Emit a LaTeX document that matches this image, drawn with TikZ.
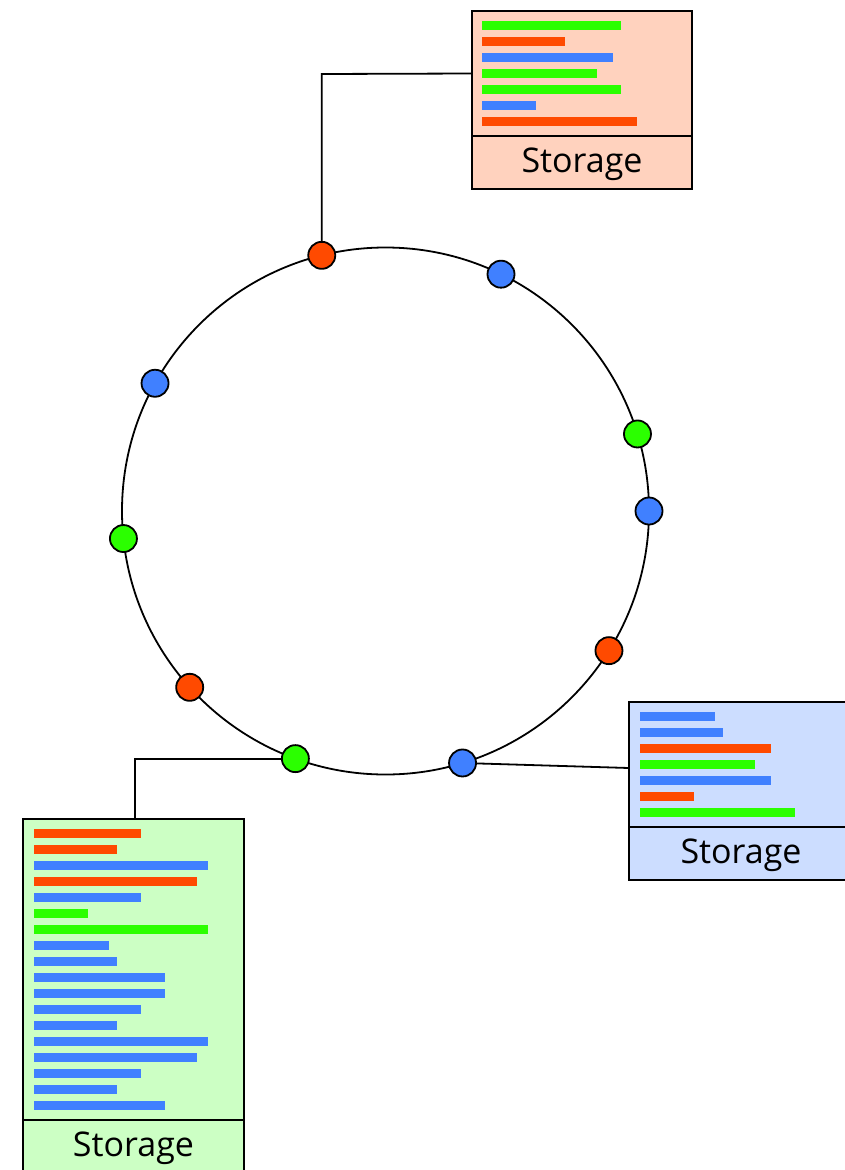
\documentclass[tikz,border=0pt]{standalone}
\usepackage{fontspec}
\setmainfont{Open Sans}
\usetikzlibrary{calc}
\definecolor{barred}{RGB}{255,74,0}
\definecolor{bargreen}{RGB}{43,255,0}
\definecolor{barblue}{RGB}{64,128,255}
\definecolor{peach}{RGB}{255,210,190}
\definecolor{paleblue}{RGB}{204,221,255}
\definecolor{palegreen}{RGB}{204,255,196}

% horizontal bars: #1 = left x, #2 = first centre y, #3 = colour/end list
\newcommand{\drawbars}[3]{%
  \foreach \c/\e [count=\i from 0] in {#3}
    \fill[\c] (#1,{#2+16*\i-4.5}) rectangle (\e,{#2+16*\i+4.5});}

\begin{document}
\begin{tikzpicture}[x=1pt,y=-1pt,
  dot/.style={circle,draw,line width=1.8pt,minimum size=27pt,inner sep=0pt,outer sep=0pt},
  panel/.style={draw,line width=2pt,inner sep=0pt,outer sep=0pt,anchor=north west},
  caption/.style={panel,font=\fontsize{34}{34}\selectfont,text depth=4pt},
  link/.style={line width=1.8pt}]
\clip (0,0) rectangle (845,1170);
\fill[white] (0,0) rectangle (845,1170);

% ring
\node[circle,draw,line width=1.8pt,minimum size=527pt,inner sep=0pt,outer sep=0pt] (ring) at (385.5,511) {};

% storage panels
\node[panel,fill=peach,minimum width=220pt,minimum height=125pt] (topbars) at (472,11) {};
\node[caption,fill=peach,minimum width=220pt,minimum height=53pt] (topcap) at (472,136) {Storage};
\drawbars{482}{25}{bargreen/621,barred/565,barblue/613,bargreen/597,bargreen/621,barblue/536,barred/637}

\node[panel,fill=paleblue,minimum width=224pt,minimum height=125pt] (rightbars) at (629,702) {};
\node[caption,fill=paleblue,minimum width=224pt,minimum height=53pt] (rightcap) at (629,827) {Storage};
\drawbars{640}{716}{barblue/715,barblue/723,barred/771,bargreen/755,barblue/771,barred/694,bargreen/795}

\node[panel,fill=palegreen,minimum width=221pt,minimum height=301pt] (leftbars) at (23,819) {};
\node[caption,fill=palegreen,minimum width=221pt,minimum height=53pt] (leftcap) at (23,1120) {Storage};
\drawbars{34}{833.5}{barred/141,barred/117,barblue/208,barred/197,barblue/141,bargreen/88,bargreen/208,barblue/109,barblue/117,barblue/165,barblue/165,barblue/141,barblue/117,barblue/208,barblue/197,barblue/141,barblue/117,barblue/165}

% nodes on the ring
\node[dot,fill=barred]   (n1)  at (ring.104.4) {};
\node[dot,fill=barblue]  (n2)  at (ring.64.3) {};
\node[dot,fill=bargreen] (n3)  at (ring.17.4) {};
\node[dot,fill=barblue]  (n4)  at (ring.0.4) {};
\node[dot,fill=barred]   (n5)  at (ring.-32.7) {};
\node[dot,fill=barblue]  (n6)  at (ring.-73.5) {};
\node[dot,fill=bargreen] (n7)  at (ring.-110) {};
\node[dot,fill=barred]   (n8)  at (ring.-138.7) {};
\node[dot,fill=bargreen] (n9)  at (ring.-174.5) {};
\node[dot,fill=barblue]  (n10) at (ring.151.6) {};

% links to storage
\coordinate (k1) at (321,74);
\draw[link] (n1) -- (n1 |- k1) -- (topbars.west);
\coordinate (k2) at (135,819);
\draw[link] (n7) -| (k2);
\coordinate (k3) at (629,768);
\draw[link] (n6) -- (k3);
\end{tikzpicture}
\end{document}
